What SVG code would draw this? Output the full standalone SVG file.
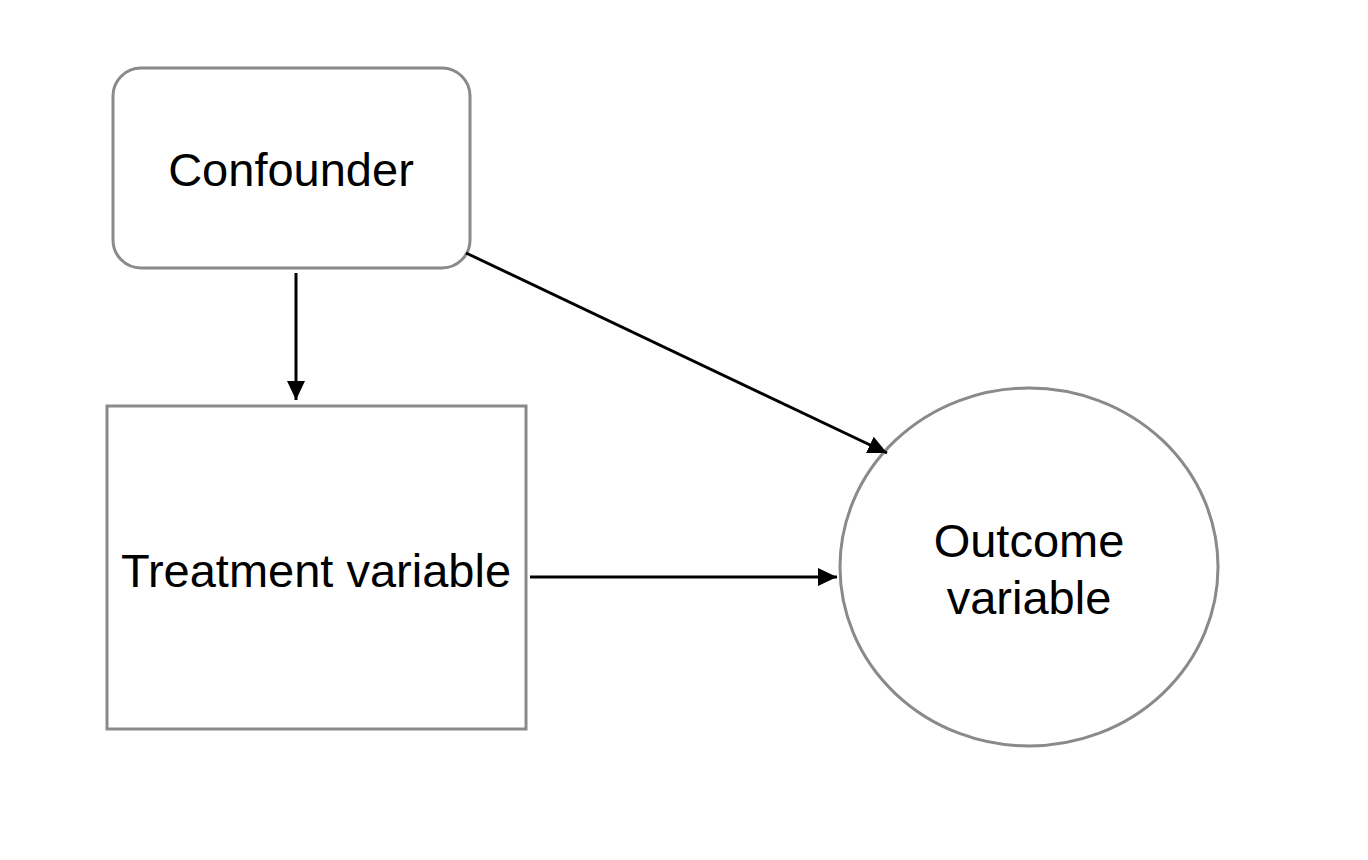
<svg xmlns="http://www.w3.org/2000/svg" width="1368" height="860" viewBox="0 0 1368 860">
<style>
.node{fill:#ffffff;stroke:#8a898e;stroke-width:3}
.lbl{font-family:"Liberation Sans",Arial,sans-serif;font-size:47px;fill:#000000;text-anchor:middle}
.edge{stroke:#000000;stroke-width:3;fill:none}
</style>
<defs>
<marker id="ah" markerUnits="userSpaceOnUse" markerWidth="20" markerHeight="18" refX="19" refY="9" orient="auto">
<path d="M0,0 L19,9 L0,18 Z" fill="#000000"/>
</marker>
</defs>
<rect width="1368" height="860" fill="#ffffff"/>
<g id="confounder">
<rect class="node" x="113" y="68" width="357" height="200" rx="28" ry="28"/>
<text class="lbl" x="291" y="186">Confounder</text>
</g>
<g id="treatment">
<rect class="node" x="107" y="406" width="419" height="323"/>
<text class="lbl" x="316" y="587">Treatment variable</text>
</g>
<g id="outcome">
<ellipse class="node" cx="1029" cy="567" rx="189" ry="179"/>
<text class="lbl" x="1029" y="557">Outcome</text>
<text class="lbl" x="1029" y="614">variable</text>
</g>
<g id="connectors">
<line class="edge" x1="296" y1="273" x2="296" y2="400" marker-end="url(#ah)"/>
<line class="edge" x1="466" y1="253" x2="887" y2="453" marker-end="url(#ah)"/>
<line class="edge" x1="530" y1="577" x2="837" y2="577" marker-end="url(#ah)"/>
</g>
</svg>
